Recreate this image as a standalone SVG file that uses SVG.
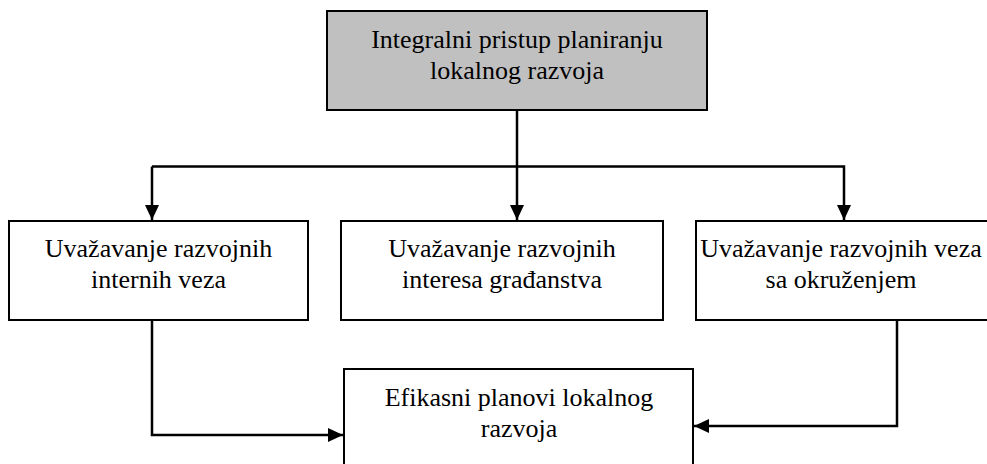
<svg xmlns="http://www.w3.org/2000/svg" width="987" height="464" viewBox="0 0 987 464">
<style>
.box{fill:#ffffff;stroke:#000000;stroke-width:2}
.top{fill:#c0c0c0;stroke:#000000;stroke-width:2}
.t{font-family:'Liberation Serif','Times New Roman',Tinos,'DejaVu Serif',serif;font-size:26px;fill:#000000;text-anchor:middle}
.c{fill:none;stroke:#000000;stroke-width:2.5}
</style>
<defs>
<marker id="ah" markerUnits="userSpaceOnUse" markerWidth="16" markerHeight="16" viewBox="0 0 16 16" refX="15" refY="8" orient="auto">
<path d="M0,1 L15,8 L0,15 Z" fill="#000000"/>
</marker>
</defs>
<rect width="987" height="464" fill="#ffffff"/>
<g id="connectors">
<path class="c" d="M517,110 V220" marker-end="url(#ah)"/>
<path class="c" d="M152,166.5 H844 V220" marker-end="url(#ah)"/>
<path class="c" d="M152,166.5 V220" marker-end="url(#ah)"/>
<path class="c" d="M152,321 V435 H343" marker-end="url(#ah)"/>
<path class="c" d="M897,321 V426 H694" marker-end="url(#ah)"/>
</g>
<g id="n0">
<rect class="top" x="327" y="11" width="380" height="99"/>
<text class="t" font-family="Liberation Serif, serif" x="517" y="48">Integralni pristup planiranju</text>
<text class="t" font-family="Liberation Serif, serif" x="517" y="79">lokalnog razvoja</text>
</g>
<g id="n1">
<rect class="box" x="9" y="221" width="299" height="99"/>
<text class="t" font-family="Liberation Serif, serif" x="158.5" y="257">Uvažavanje razvojnih</text>
<text class="t" font-family="Liberation Serif, serif" x="158.5" y="288">internih veza</text>
</g>
<g id="n2">
<rect class="box" x="341" y="221" width="322" height="99"/>
<text class="t" font-family="Liberation Serif, serif" x="502" y="257">Uvažavanje razvojnih</text>
<text class="t" font-family="Liberation Serif, serif" x="502" y="288">interesa građanstva</text>
</g>
<g id="n3">
<rect class="box" x="696" y="221" width="310" height="99"/>
<text class="t" font-family="Liberation Serif, serif" x="841" y="257">Uvažavanje razvojnih veza</text>
<text class="t" font-family="Liberation Serif, serif" x="841" y="288">sa okruženjem</text>
</g>
<g id="n4">
<rect class="box" x="344" y="369" width="349" height="110"/>
<text class="t" font-family="Liberation Serif, serif" x="519" y="406">Efikasni planovi lokalnog</text>
<text class="t" font-family="Liberation Serif, serif" x="519" y="437">razvoja</text>
</g>
</svg>
